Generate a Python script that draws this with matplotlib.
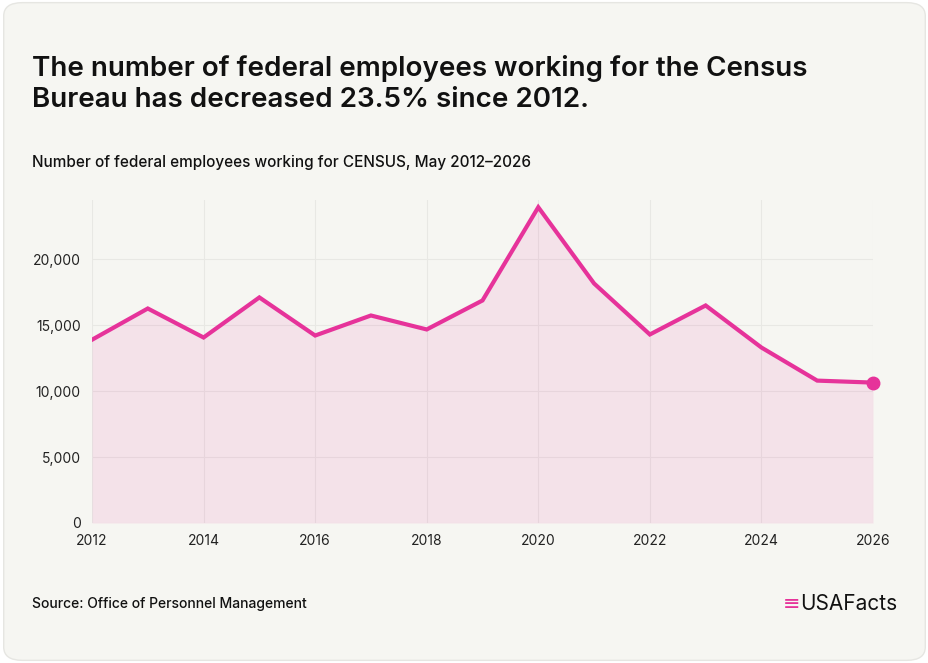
import matplotlib.pyplot as plt
from matplotlib.patches import FancyBboxPatch

years = list(range(2012, 2027))
employees = [13900, 16270, 14070, 17110, 14220, 15740, 14680, 16880,
             23950, 18170, 14300, 16500, 13310, 10800, 10650]
xticks = list(range(2012, 2027, 2))
yticks = [0, 5000, 10000, 15000, 20000]

pink = '#e6339a'
plt.rcParams['font.family'] = ['Inter', 'DejaVu Sans']

fig = plt.figure(figsize=(9.29, 6.63), dpi=100)
fig.patch.set_facecolor('white')
card = FancyBboxPatch((0.004, 0.004), 0.992, 0.992, boxstyle='round,pad=0,rounding_size=0.02',
                      transform=fig.transFigure, facecolor='#f6f6f2', edgecolor='#e6e6e2', lw=1,
                      zorder=-10)
fig.patches.append(card)

ax = fig.add_axes([92/929, 1-523/663, (873-92)/929, (523-200)/663])
ax.set_facecolor('none')
ax.fill_between(years, employees, color=pink, alpha=0.1, lw=0)
ax.plot(years, employees, color=pink, lw=3, solid_joinstyle='miter')
ax.plot(years[-1], employees[-1], 'o', color=pink, ms=9, clip_on=False)
ax.set_xlim(2012, 2026)
ax.set_ylim(0, 24500)
ax.set_xticks(xticks)
ax.set_yticks(yticks)
ax.set_yticklabels([f'{v:,}' for v in yticks])
ax.grid(True, color='#e8e8e4', lw=0.8)
ax.set_axisbelow(True)
for s in ax.spines.values():
    s.set_visible(False)
ax.tick_params(length=0, labelsize=10, colors='#222222', pad=8)

fig.text(32/929, 1-84/663, 'The number of federal employees working for the Census\nBureau has decreased 23.5% since 2012.',
         fontsize=20, fontweight='semibold', va='center', linespacing=1.25, color='#111111')
fig.text(32/929, 1-163/663, 'Number of federal employees working for CENSUS, May 2012\u20132026',
         fontsize=11, fontweight='medium', va='center', color='#111111')
fig.text(32/929, 1-604/663, 'Source: Office of Personnel Management', fontsize=10,
         fontweight='medium', va='center', color='#111111')
fig.text(897/929, 1-604/663, 'USAFacts', fontsize=15, va='center', ha='right', color='#111111')
fig.text(800/929, 1-604/663, '\u2261', fontsize=15, va='center', ha='right', color=pink)

fig.savefig('out.png', dpi=100, facecolor=fig.get_facecolor())
